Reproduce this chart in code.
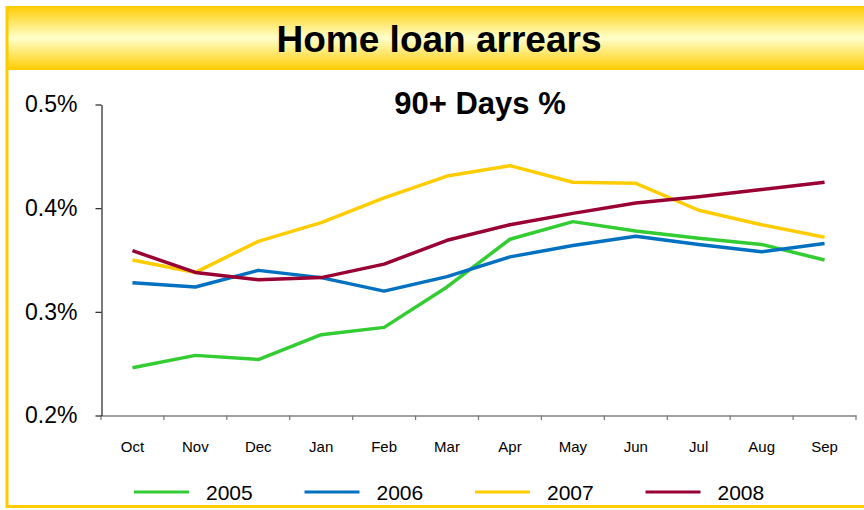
<!DOCTYPE html>
<html>
<head>
<meta charset="utf-8">
<script src="https://cdn.jsdelivr.net/npm/d3@7"></script>
<style>
  body { margin: 0; background: #fff; }
  svg { display: block; font-family: 'Liberation Sans', Arial, sans-serif; }
</style>
</head>
<body>
<div id="grafica"></div>
<script>
// datos (90+ days arrears, %)
meses = ['Oct', 'Nov', 'Dec', 'Jan', 'Feb', 'Mar', 'Apr', 'May', 'Jun', 'Jul', 'Aug', 'Sep']
anios = ['2005', '2006', '2007', '2008']
serie2005 = [0.246, 0.258, 0.254, 0.278, 0.285, 0.324, 0.370, 0.387, 0.378, 0.371, 0.365, 0.350]
serie2006 = [0.328, 0.324, 0.340, 0.333, 0.320, 0.334, 0.353, 0.364, 0.373, 0.365, 0.358, 0.366]
serie2007 = [0.350, 0.338, 0.368, 0.386, 0.410, 0.431, 0.441, 0.425, 0.424, 0.398, 0.384, 0.372]
serie2008 = [0.359, 0.338, 0.331, 0.333, 0.346, 0.369, 0.384, 0.395, 0.405, 0.411, 0.418, 0.425]
yTicks = [0.2, 0.3, 0.4, 0.5]

series = [serie2005, serie2006, serie2007, serie2008]
colores = ['#33CC33', '#0070C0', '#FFCC00', '#990033']

ancho_total = 864
alto_total  = 510
margin = { left: 101, right: 8, top: 104, bottom: 95 }

ancho = ancho_total - margin.left - margin.right
alto  = alto_total - margin.top - margin.bottom

svg = d3
        .select('#grafica')
        .append('svg')
        .attr('width', ancho_total)
        .attr('height', alto_total)

// franja del titulo con degradado
defs = svg.append('defs')
grad = defs
        .append('linearGradient')
        .attr('id', 'franja')
        .attr('x1', 0).attr('y1', 0)
        .attr('x2', 0).attr('y2', 1)
grad.append('stop').attr('offset', '0%').attr('stop-color', '#FFCC00')
grad.append('stop').attr('offset', '50%').attr('stop-color', '#FFFFCC')
grad.append('stop').attr('offset', '100%').attr('stop-color', '#FFCC00')

svg.append('rect')
    .attr('x', 6)
    .attr('y', 6)
    .attr('width', ancho_total - 6)
    .attr('height', 64)
    .attr('fill', 'url(#franja)')

// marco amarillo (izquierda y abajo)
svg.append('path')
    .attr('d', 'M7,6 L7,506.5 L864,506.5')
    .attr('fill', 'none')
    .attr('stroke', '#FFCC00')
    .attr('stroke-width', 3)

svg.append('text')
    .attr('x', 439)
    .attr('y', 52)
    .attr('text-anchor', 'middle')
    .attr('font-size', '37px')
    .attr('font-weight', 'bold')
    .attr('fill', '#000')
    .text('Home loan arrears')

g = svg
      .append('g')
      .attr('transform', 'translate(' + margin.left + ',' + margin.top + ')')

g.append('text')
    .attr('x', 480 - margin.left)
    .attr('y', 114 - margin.top)
    .attr('text-anchor', 'middle')
    .attr('font-size', '31px')
    .attr('font-weight', 'bold')
    .text('90+ Days %')

// escaladores
x = d3
      .scaleBand()
      .domain(meses)
      .range([0, 755])
y = d3
      .scaleLinear()
      .domain([0.2, 0.5])
      .range([alto + 0.5, 0.5])

// ejes
xGroup = g
          .append('g')
          .attr('transform', `translate(0, ${alto + 0.5})`)
xAxisCall = d3
              .axisBottom(x)
              .tickSize(0)
              .tickPadding(26)
xGroup.call(xAxisCall)
xGroup.select('.domain').attr('stroke', '#444').attr('stroke-width', 1.2)
xGroup.selectAll('text')
      .attr('font-size', '15px')
      .attr('font-family', 'Liberation Sans, Arial, sans-serif')
      .attr('fill', '#000')

// marcas entre meses
xGroup.selectAll('.sep')
      .data(meses.concat(['fin']))
      .enter()
      .append('line')
      .attr('class', 'sep')
      .attr('x1', (d, i) => i * x.step())
      .attr('x2', (d, i) => i * x.step())
      .attr('y1', 0)
      .attr('y2', 4.5)
      .attr('stroke', '#777')
      .attr('stroke-width', 1.2)

yGroup = g.append('g').attr('transform', 'translate(0.5,0)')
yAxisCall = d3
              .axisLeft(y)
              .tickValues(yTicks)
              .tickSize(6)
              .tickSizeOuter(0)
              .tickPadding(18)
              .tickFormat((d) => d.toFixed(1) + '%')
yGroup.call(yAxisCall)
yGroup.select('.domain').attr('stroke', '#222').attr('stroke-width', 1.2)
yGroup.selectAll('.tick line').attr('stroke', '#222').attr('stroke-width', 1.2)
yGroup.selectAll('text')
      .attr('font-size', '23px')
      .attr('font-family', 'Liberation Sans, Arial, sans-serif')
      .attr('fill', '#000')

// lineas
linea = d3
          .line()
          .x((d, i) => x(meses[i]) + x.bandwidth() / 2)
          .y((d) => y(d))

g.selectAll('.serie')
  .data(series)
  .enter()
  .append('path')
  .attr('class', 'serie')
  .attr('d', (d) => linea(d))
  .attr('fill', 'none')
  .attr('stroke', (d, i) => colores[i])
  .attr('stroke-width', 3.5)
  .attr('stroke-linejoin', 'round')

// leyenda
leyenda = svg
            .append('g')
            .selectAll('g')
            .data(anios)
            .enter()
            .append('g')
            .attr('transform', (d, i) => `translate(${134 + i * 170.5}, 492)`)

leyenda.append('line')
        .attr('x1', 0)
        .attr('x2', 55)
        .attr('stroke', (d, i) => colores[i])
        .attr('stroke-width', 3)
leyenda.append('text')
        .attr('x', 72)
        .attr('y', 7.5)
        .attr('font-size', '21px')
        .text((d) => d)
</script>
</body>
</html>
